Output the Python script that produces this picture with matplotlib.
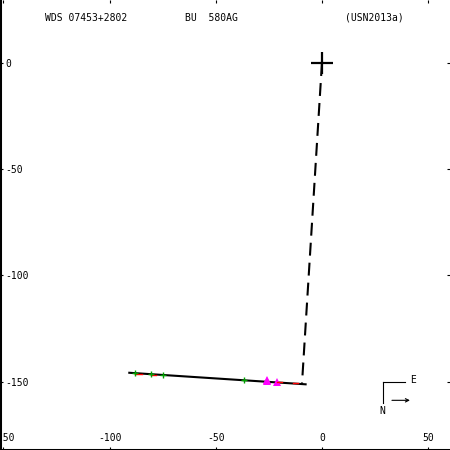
import matplotlib
matplotlib.use('Agg')
import matplotlib.pyplot as plt

plt.rcParams['axes.unicode_minus'] = False

# ---- text ----
title_left = "WDS 07453+2802"
title_mid = "BU  580AG"
title_right = "(USN2013a)"

# ---- data ----
fit_x = [-91.2, -7.2]            # linear-motion fit
fit_y = [-145.8, -151.3]
closest_x = [0.0, -9.4]          # primary -> closest approach
closest_y = [0.0, -151.0]
primary_x = [0.0]
primary_y = [0.0]
plus_x = [-88.0, -80.5, -74.7, -36.7]     # green measurements
plus_y = [-146.1, -146.6, -147.0, -149.1]
tri_x = [-26.0, -26.0, -21.0]             # magenta measurements
tri_y = [-149.9, -149.1, -150.4]
res_x0 = [-88.0, -80.5, -21.0, -13.5]     # residual segments (O-C)
res_y0 = [-146.6, -146.9, -150.2, -150.8]
res_x1 = [-84.8, -78.3, -19.0, -11.1]
res_y1 = [-146.6, -146.9, -150.2, -150.8]

xticks = [-150, -100, -50, 0, 50]
yticks = [0, -50, -100, -150]
xlim = (-151.6, 60.3)
ylim = (-182.2, 29.7)

fig = plt.figure(figsize=(4.5, 4.5), dpi=100)
ax = fig.add_axes([0, 0, 1, 1])
ax.set_xlim(*xlim)
ax.set_ylim(*ylim)

ax.plot(closest_x, closest_y, color='black', lw=1.5, dashes=(6.2, 3.4), zorder=2)
ax.plot(fit_x, fit_y, color='black', lw=1.5, solid_capstyle='butt', zorder=3)
ax.plot(tri_x, tri_y, linestyle='none', marker='^', markersize=5.2,
        color='#ff00ff', markeredgewidth=0, zorder=4)
for a, b, c, d in zip(res_x0, res_y0, res_x1, res_y1):
    ax.plot([a, c], [b, d], color='#ff0000', lw=1.0, zorder=5)
ax.plot(plus_x, plus_y, linestyle='none', marker='+', markersize=5,
        color='#00a000', markeredgewidth=1.0, zorder=6)
ax.plot(primary_x, primary_y, linestyle='none', marker='+', markersize=16,
        color='black', markeredgewidth=1.6, zorder=7)

ax.set_xticks(xticks)
ax.set_yticks(yticks)
ax.set_xticklabels([str(v) for v in xticks])
ax.set_yticklabels([str(v) for v in yticks])
ax.tick_params(axis='both', direction='in', length=2.5, width=0.8,
               labelsize=7, top=True, right=True, colors='black')
ax.tick_params(axis='x', pad=-12.5)
ax.tick_params(axis='y', pad=-3.6)
for lab in ax.get_yticklabels():
    lab.set_horizontalalignment('left')
    lab.set_fontfamily('DejaVu Sans Mono')
for lab in ax.get_xticklabels():
    lab.set_fontfamily('DejaVu Sans Mono')

for s in ['top', 'right']:
    ax.spines[s].set_visible(False)
for s in ['left', 'bottom']:
    ax.spines[s].set_linewidth(2.2)

mono = dict(fontfamily='DejaVu Sans Mono', fontsize=7, transform=ax.transAxes,
            va='center', ha='left', color='black')
ax.text(0.100, 0.960, title_left, **mono)
ax.text(0.411, 0.960, title_mid, **mono)
ax.text(0.767, 0.960, title_right, **mono)

# compass
ax.plot([0.8518, 0.9], [0.1518, 0.1518], color='black', lw=0.8, transform=ax.transAxes)
ax.plot([0.8518, 0.8518], [0.1518, 0.1038], color='black', lw=0.8, transform=ax.transAxes)
ax.text(0.9185, 0.1556, 'E', fontfamily='DejaVu Sans Mono', fontsize=7,
        transform=ax.transAxes, ha='center', va='center')
ax.text(0.849, 0.0867, 'N', fontfamily='DejaVu Sans Mono', fontsize=7,
        transform=ax.transAxes, ha='center', va='center')
ax.annotate('', xy=(0.911, 0.1104), xytext=(0.871, 0.1104), xycoords='axes fraction',
            arrowprops=dict(arrowstyle='->', lw=0.8, color='black',
                            mutation_scale=6, shrinkA=0, shrinkB=0))

fig.savefig('out.png', dpi=100)
